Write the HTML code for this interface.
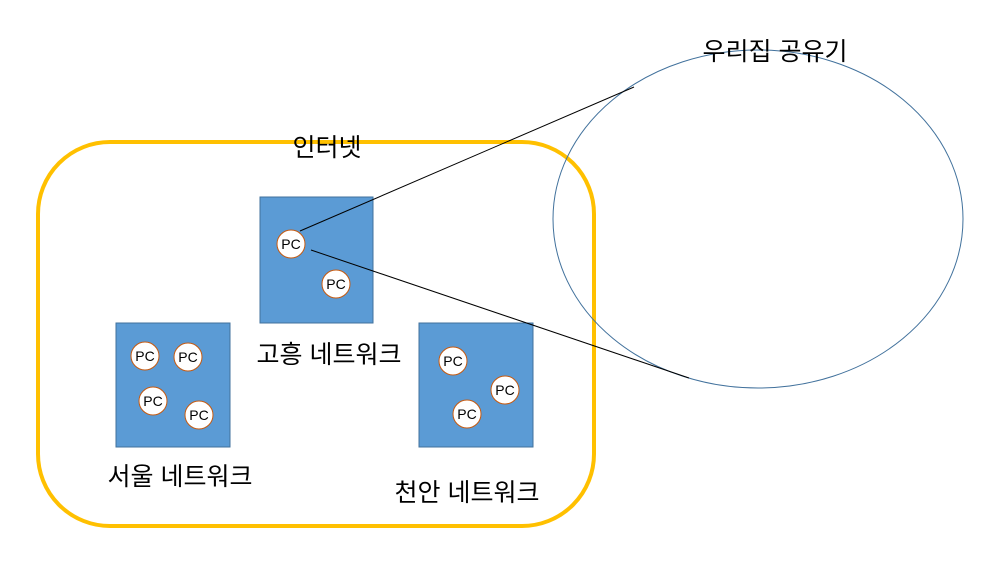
<!DOCTYPE html>
<html><head><meta charset="utf-8"><style>body{margin:0;background:#fff}svg text{font-family:"Liberation Sans","Noto Sans CJK KR",sans-serif}</style></head><body>
<svg width="984" height="572" xmlns="http://www.w3.org/2000/svg">
<rect x="38" y="142" width="556" height="384" rx="72" fill="none" stroke="#ffc000" stroke-width="4"/>
<ellipse cx="758" cy="219" rx="205" ry="169" fill="none" stroke="#41719c" stroke-width="1"/>
<g fill="#5b9bd5" stroke="#41719c" stroke-width="1">
<rect x="260" y="197" width="113" height="126"/>
<rect x="116" y="323" width="114" height="124"/>
<rect x="419" y="323" width="114" height="124"/>
</g>
<g fill="#fff" stroke="#c55a11" stroke-width="1">
<circle cx="291" cy="244" r="14"/><circle cx="336" cy="284" r="14"/>
<circle cx="145" cy="356" r="14"/><circle cx="188" cy="357" r="14"/><circle cx="153" cy="401" r="14"/><circle cx="199" cy="415" r="14"/>
<circle cx="453" cy="361" r="14"/><circle cx="505" cy="390" r="14"/><circle cx="467" cy="414" r="14"/>
</g>
<g font-size="14" text-anchor="middle" fill="#000">
<text x="291" y="249">PC</text><text x="336" y="289">PC</text>
<text x="145" y="361">PC</text><text x="188" y="362">PC</text><text x="153" y="406">PC</text><text x="199" y="420">PC</text>
<text x="453" y="366">PC</text><text x="505" y="395">PC</text><text x="467" y="419">PC</text>
</g>
<line x1="300" y1="231" x2="634" y2="87" stroke="#000" stroke-width="1"/>
<line x1="311" y1="250" x2="689" y2="378" stroke="#000" stroke-width="1"/>
<g font-size="25" text-anchor="middle" fill="#000">
<text x="775" y="60">우리집 공유기</text>
<text x="327" y="156">인터넷</text>
<text x="329" y="363">고흥 네트워크</text>
<text x="180" y="485">서울 네트워크</text>
<text x="467" y="501">천안 네트워크</text>
</g>
</svg>
</body></html>
